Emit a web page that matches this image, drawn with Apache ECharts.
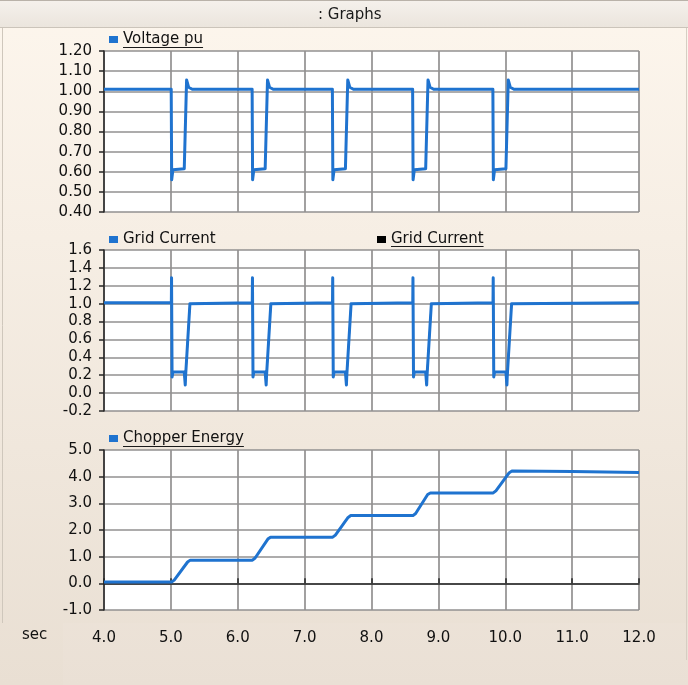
<!DOCTYPE html>
<html>
<head>
<meta charset="utf-8">
<script src="https://cdn.jsdelivr.net/npm/echarts@6/dist/echarts.min.js"></script>
<style>
  html, body { margin: 0; padding: 0; }
  #chart { width: 688px; height: 685px; }
</style>
</head>
<body>
<div id="chart"></div>
<script>
// ---- time axis ----
const timeMin = 4.0;
const timeMax = 12.0;

// ---- Voltage pu ----
const voltageTime = [
  4.000,
  5.005, 5.012, 5.030, 5.200, 5.235, 5.265, 5.320,
  6.215, 6.222, 6.240, 6.410, 6.445, 6.475, 6.530,
  7.415, 7.422, 7.440, 7.610, 7.645, 7.675, 7.730,
  8.615, 8.622, 8.640, 8.810, 8.845, 8.875, 8.930,
  9.815, 9.822, 9.840, 10.010, 10.045, 10.075, 10.130,
  12.000
];
const voltageValue = [
  1.01,
  1.01, 0.56, 0.61, 0.615, 1.056, 1.02, 1.01,
  1.01, 0.56, 0.61, 0.615, 1.056, 1.02, 1.01,
  1.01, 0.56, 0.61, 0.615, 1.056, 1.02, 1.01,
  1.01, 0.56, 0.61, 0.615, 1.056, 1.02, 1.01,
  1.01, 0.56, 0.61, 0.615, 1.056, 1.02, 1.01,
  1.01
];

// ---- Grid Current ----
const currentTime = [
  4.000,
  5.007, 5.010, 5.018, 5.030, 5.200, 5.210, 5.215, 5.220, 5.285, 5.300,
  6.217, 6.220, 6.228, 6.240, 6.410, 6.420, 6.425, 6.430, 6.495, 6.510,
  7.417, 7.420, 7.428, 7.440, 7.610, 7.620, 7.625, 7.630, 7.695, 7.710,
  8.617, 8.620, 8.628, 8.640, 8.810, 8.820, 8.825, 8.830, 8.895, 8.910,
  9.817, 9.820, 9.828, 9.840, 10.010, 10.020, 10.025, 10.030, 10.095, 10.110,
  12.000
];
const currentValue = [
  1.01,
  1.01, 1.29, 0.18, 0.235, 0.235, 0.23, 0.09, 0.19, 1.00, 1.01,
  1.01, 1.29, 0.18, 0.235, 0.235, 0.23, 0.09, 0.19, 1.00, 1.01,
  1.01, 1.29, 0.18, 0.235, 0.235, 0.23, 0.09, 0.19, 1.00, 1.01,
  1.01, 1.29, 0.18, 0.235, 0.235, 0.23, 0.09, 0.19, 1.00, 1.01,
  1.01, 1.29, 0.18, 0.235, 0.235, 0.23, 0.09, 0.19, 1.00, 1.01,
  1.01
];

// ---- Chopper Energy ----
const energyTime = [
  4.00, 5.01, 5.05, 5.25, 5.29,
  6.22, 6.26, 6.45, 6.49,
  7.42, 7.46, 7.65, 7.69,
  8.62, 8.66, 8.84, 8.88,
  9.82, 9.86, 10.06, 10.10,
  11.00, 12.00
];
const energyValue = [
  0.05, 0.05, 0.12, 0.80, 0.87,
  0.87, 0.95, 1.66, 1.73,
  1.73, 1.81, 2.47, 2.54,
  2.54, 2.62, 3.33, 3.39,
  3.39, 3.47, 4.15, 4.21,
  4.19, 4.16
];

// ---- names ----
const seriesNames = ['Voltage pu', 'Grid Current', 'Chopper Energy'];
const windowTitle = ': Graphs';
const timeUnit = 'sec';

function pairs(xs, ys) { return xs.map((x, i) => [x, ys[i]]); }

const FONT = 'DejaVu Sans';
const BLUE = '#1f73cf';
const GRID_COLOR = '#929090';
const AXIS_DARK = '#262626';

const chart = echarts.init(document.getElementById('chart'), null, { renderer: 'canvas' });

const plotLeft = 104, plotRight = 49;
const grids = [
  { left: plotLeft, right: plotRight, top: 51, height: 161 },
  { left: plotLeft, right: plotRight, top: 250, height: 161 },
  { left: plotLeft, right: plotRight, top: 450, height: 160 }
];

function xAxisFor(idx, showLabels) {
  return {
    type: 'value', gridIndex: idx, min: timeMin, max: timeMax, interval: 1,
    offset: showLabels ? 13 : 0,
    axisLine: { show: showLabels, lineStyle: { color: AXIS_DARK, width: 1.5 } },
    axisTick: { show: showLabels, inside: true, length: 5, lineStyle: { color: AXIS_DARK, width: 1.5 } },
    axisLabel: { show: showLabels, margin: 8, fontFamily: FONT, fontSize: 15, color: '#111111',
      formatter: v => v.toFixed(1) },
    splitLine: { show: true, lineStyle: { color: GRID_COLOR, width: 1.7 } }
  };
}
function yAxisFor(idx, min, max, interval, digits) {
  return {
    type: 'value', gridIndex: idx, min: min, max: max, interval: interval,
    axisLine: { show: true, onZero: false, lineStyle: { color: AXIS_DARK, width: 1.5 } },
    axisTick: { show: true, length: 5, lineStyle: { color: AXIS_DARK, width: 1.5 } },
    axisLabel: { margin: 12, fontFamily: FONT, fontSize: 15, color: '#111111',
      formatter: v => v.toFixed(digits) },
    splitLine: { show: true, lineStyle: { color: GRID_COLOR, width: 1.7 } }
  };
}

const legendText = { fontFamily: FONT, fontSize: 15, color: '#111111' };
const legendBase = { orient: 'horizontal', icon: 'rect', itemWidth: 9, itemHeight: 7,
  padding: 0, selectedMode: false, textStyle: legendText };

// underline widths for underlined legend captions
const measureCtx = document.createElement('canvas').getContext('2d');
measureCtx.font = '15px "' + FONT + '"';
function underline(x, y, text) {
  const w = measureCtx.measureText(text).width;
  return { type: 'line', silent: true, z: 10,
    shape: { x1: x, y1: y, x2: x + w, y2: y },
    style: { stroke: '#1a1a1a', lineWidth: 1 } };
}

const option = {
  animation: false,
  backgroundColor: {
    type: 'linear', x: 0, y: 0, x2: 0, y2: 1,
    colorStops: [{ offset: 0, color: '#fdf6ed' }, { offset: 1, color: '#e9dfd3' }]
  },
  title: {
    text: windowTitle, left: 318, top: 8, padding: 0,
    textStyle: { fontFamily: FONT, fontSize: 15, fontWeight: 'normal', color: '#1a1a1a' }
  },
  grid: grids.map(g => Object.assign({ containLabel: false, backgroundColor: '#ffffff', show: true, borderWidth: 0 }, g)),
  xAxis: [xAxisFor(0, false), xAxisFor(1, false), xAxisFor(2, true)],
  yAxis: [
    yAxisFor(0, 0.4, 1.2, 0.1, 2),
    yAxisFor(1, -0.2, 1.6, 0.2, 1),
    yAxisFor(2, -1, 5, 1, 1)
  ],
  legend: [
    Object.assign({}, legendBase, { left: 109, top: 32, data: [seriesNames[0]] }),
    Object.assign({}, legendBase, { left: 109, top: 232, data: [seriesNames[1]] }),
    Object.assign({}, legendBase, { left: 377, top: 232,
      data: [{ name: seriesNames[1], itemStyle: { color: '#000000' } }] }),
    Object.assign({}, legendBase, { left: 109, top: 431, data: [seriesNames[2]] })
  ],
  series: [
    { name: seriesNames[0], type: 'line', xAxisIndex: 0, yAxisIndex: 0, showSymbol: false, symbol: 'none',
      color: BLUE, lineStyle: { color: BLUE, width: 3, join: 'round' }, z: 3,
      data: pairs(voltageTime, voltageValue) },
    { name: seriesNames[1], type: 'line', xAxisIndex: 1, yAxisIndex: 1, showSymbol: false, symbol: 'none',
      color: BLUE, lineStyle: { color: BLUE, width: 3, join: 'round' }, z: 3,
      data: pairs(currentTime, currentValue) },
    { name: seriesNames[1], type: 'line', xAxisIndex: 1, yAxisIndex: 1, showSymbol: false, symbol: 'none',
      color: '#000000', lineStyle: { color: '#000000', width: 1.5 }, z: 2,
      data: pairs(currentTime, currentValue) },
    { name: seriesNames[2], type: 'line', xAxisIndex: 2, yAxisIndex: 2, showSymbol: false, symbol: 'none',
      color: BLUE, lineStyle: { color: BLUE, width: 3, join: 'round' }, z: 3,
      data: pairs(energyTime, energyValue) }
  ],
  graphic: [
    // window caption bar
    { type: 'rect', silent: true, z: -10, shape: { x: 0, y: 0, width: 688, height: 27 },
      style: { fill: { type: 'linear', x: 0, y: 0, x2: 0, y2: 1,
        colorStops: [{ offset: 0, color: '#f5f1ec' }, { offset: 1, color: '#ebe5dd' }] } } },
    { type: 'line', silent: true, shape: { x1: 0, y1: 0.5, x2: 688, y2: 0.5 }, style: { stroke: '#b9b2a9', lineWidth: 1 } },
    { type: 'line', silent: true, shape: { x1: 0, y1: 27.5, x2: 688, y2: 27.5 }, style: { stroke: '#cbc4ba', lineWidth: 1 } },
    // frame edges
    { type: 'line', silent: true, shape: { x1: 2.5, y1: 28, x2: 2.5, y2: 623 }, style: { stroke: '#cfc7bc', lineWidth: 1 } },
    { type: 'line', silent: true, shape: { x1: 686.5, y1: 28, x2: 686.5, y2: 660 }, style: { stroke: '#d6cec3', lineWidth: 1 } },
    // lower band behind the time axis
    { type: 'rect', silent: true, z: -10, shape: { x: 63, y: 623, width: 625, height: 62 },
      style: { fill: 'rgba(255,255,255,0.05)' } },
    // time unit caption
    { type: 'text', silent: true, x: 22, y: 628,
      style: { text: timeUnit, fontFamily: FONT, fontSize: 15, fill: '#111111' } },
    underline(123, 47.5, seriesNames[0]),
    underline(391, 246.5, seriesNames[1]),
    underline(123, 446.5, seriesNames[2])
  ]
};

chart.setOption(option);
</script>
</body>
</html>
